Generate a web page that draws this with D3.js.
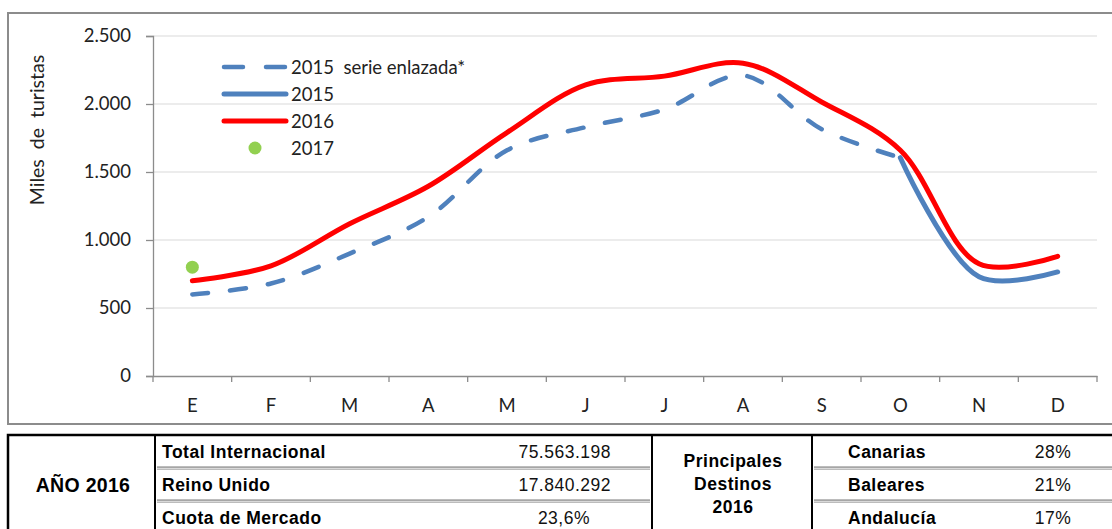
<!DOCTYPE html>
<html>
<head>
<meta charset="utf-8">
<script src="https://cdn.jsdelivr.net/npm/d3@7"></script>
<style>
  body { margin: 0; background: #fff; }
  .main svg { display: block; }
  text { white-space: pre; }
</style>
</head>
<body>
<div class="main"></div>
<script>
// chart data (miles de turistas)
let months = ["E", "F", "M", "A", "M", "J", "J", "A", "S", "O", "N", "D"];
let serieEnlazada2015 = [600, 680, 900, 1170, 1660, 1830, 1960, 2210, 1815, 1605, null, null];
let values2015 = [null, null, null, null, null, null, null, null, null, 1605, 730, 765];
let values2016 = [700, 810, 1120, 1395, 1790, 2140, 2205, 2300, 2015, 1660, 825, 880];
let values2017 = [800];
let yTicks = [0, 500, 1000, 1500, 2000, 2500];
let legendLabels = ["2015  serie enlazada*", "2015", "2016", "2017"];

// table data
let tableLabels = ["Total Internacional", "Reino Unido", "Cuota de Mercado"];
let tableValues = ["75.563.198", "17.840.292", "23,6%"];
let destinos = ["Canarias", "Baleares", "Andalucía"];
let destinosShare = ["28%", "21%", "17%"];

let width = 1112;
let height = 529;

let svg = d3.select(".main")
    .append("svg")
    .attr("width", width)
    .attr("height", height);

let labelFont = "Lato, 'Open Sans', sans-serif";
let tableFont = "'Liberation Sans', Arial, sans-serif";

// chart frame
svg.append("rect")
    .attr("x", 8).attr("y", 13)
    .attr("width", 1120).attr("height", 411)
    .attr("fill", "none")
    .attr("stroke", "#8c8c8c")
    .attr("stroke-width", 2);

let x = d3.scaleBand()
    .domain(d3.range(months.length))
    .range([153, 1097]);

let y = d3.scaleLinear()
    .domain([0, 2500])
    .range([376, 36]);

// gridlines
svg.append("g")
    .selectAll("line")
    .data(yTicks.filter(d => d > 0))
    .enter().append("line")
    .attr("x1", 153).attr("x2", 1097)
    .attr("y1", d => y(d)).attr("y2", d => y(d))
    .attr("stroke", "#d9d9d9")
    .attr("stroke-width", 1);

// y axis
let yAxis = svg.append("g")
    .attr("transform", "translate(153,0)")
    .call(d3.axisLeft(y).tickValues(yTicks).tickSize(7).tickPadding(15)
        .tickFormat(d => d3.format(",")(d).replace(",", ".")));
yAxis.select(".domain").attr("stroke", "#8c8c8c").attr("stroke-width", 1.3);
yAxis.selectAll(".tick line").attr("stroke", "#8c8c8c").attr("stroke-width", 1.3);
yAxis.selectAll("text")
    .attr("font-family", labelFont)
    .attr("font-size", 18.5)
    .attr("fill", "#222");

// x axis
let xAxis = svg.append("g")
    .attr("transform", "translate(0,376)")
    .call(d3.axisBottom(x).tickSize(0).tickPadding(23).tickFormat(i => months[i]));
xAxis.select(".domain").attr("stroke", "#8c8c8c").attr("stroke-width", 1.3);
xAxis.selectAll("text")
    .attr("font-family", labelFont)
    .attr("font-size", 18.5)
    .attr("fill", "#222");

// category boundary ticks
svg.append("g")
    .selectAll("line")
    .data(d3.range(months.length + 1))
    .enter().append("line")
    .attr("x1", i => i < months.length ? x(i) : x.range()[1])
    .attr("x2", i => i < months.length ? x(i) : x.range()[1])
    .attr("y1", 376).attr("y2", 382)
    .attr("stroke", "#8c8c8c")
    .attr("stroke-width", 1.3);

// y title
svg.append("text")
    .attr("transform", "translate(44,130) rotate(-90)")
    .attr("text-anchor", "middle")
    .attr("font-family", labelFont)
    .attr("font-size", 19.5)
    .attr("fill", "#222")
    .text("Miles  de  turistas");

let line = d3.line()
    .defined(d => d != null)
    .x((d, i) => x(i) + x.bandwidth() / 2)
    .y(d => y(d))
    .curve(d3.curveCatmullRom.alpha(0.5));

svg.append("path")
    .datum(serieEnlazada2015)
    .attr("d", line)
    .attr("fill", "none")
    .attr("stroke", "#4f81bd")
    .attr("stroke-width", 4.5)
    .attr("stroke-linecap", "round")
    .attr("stroke-dasharray", "16,22");

svg.append("path")
    .datum(values2015)
    .attr("d", line)
    .attr("fill", "none")
    .attr("stroke", "#4f81bd")
    .attr("stroke-width", 5)
    .attr("stroke-linecap", "round");

svg.append("path")
    .datum(values2016)
    .attr("d", line)
    .attr("fill", "none")
    .attr("stroke", "#ff0000")
    .attr("stroke-width", 5)
    .attr("stroke-linecap", "round");

svg.selectAll(".dot2017")
    .data(values2017)
    .enter().append("circle")
    .attr("class", "dot2017")
    .attr("cx", (d, i) => x(i) + x.bandwidth() / 2)
    .attr("cy", d => y(d))
    .attr("r", 6.5)
    .attr("fill", "#92d050");

// legend
let legend = svg.append("g").attr("transform", "translate(221,67)");
let legendRows = legend.selectAll("g")
    .data(legendLabels)
    .enter().append("g")
    .attr("transform", (d, i) => `translate(0,${i * 27})`);

legendRows.append("text")
    .attr("x", 70)
    .attr("y", 7)
    .attr("font-family", labelFont)
    .attr("font-size", 18.5)
    .attr("fill", "#222")
    .text(d => d);

legendRows.filter((d, i) => i === 0).append("line")
    .attr("x1", 3).attr("x2", 65).attr("y1", 0).attr("y2", 0)
    .attr("stroke", "#4f81bd").attr("stroke-width", 4.5)
    .attr("stroke-linecap", "round").attr("stroke-dasharray", "19,23");
legendRows.filter((d, i) => i === 1).append("line")
    .attr("x1", 3).attr("x2", 65).attr("y1", 0).attr("y2", 0)
    .attr("stroke", "#4f81bd").attr("stroke-width", 5).attr("stroke-linecap", "round");
legendRows.filter((d, i) => i === 2).append("line")
    .attr("x1", 3).attr("x2", 65).attr("y1", 0).attr("y2", 0)
    .attr("stroke", "#ff0000").attr("stroke-width", 5).attr("stroke-linecap", "round");
legendRows.filter((d, i) => i === 3).append("circle")
    .attr("cx", 34).attr("cy", 0).attr("r", 6.5)
    .attr("fill", "#92d050");

// summary table
let table = svg.append("g");
let rowH = 33;
let tableTop = 435;

table.append("rect")
    .attr("x", 8).attr("y", tableTop)
    .attr("width", 1120).attr("height", 120)
    .attr("fill", "none")
    .attr("stroke", "#000")
    .attr("stroke-width", 2.5);

[155, 652, 812].forEach(cx => {
    table.append("line")
        .attr("x1", cx).attr("x2", cx)
        .attr("y1", tableTop).attr("y2", height)
        .attr("stroke", "#000").attr("stroke-width", 2);
});

// row separators
[1, 2].forEach(r => {
    [[157, 650], [814, 1112]].forEach(seg => {
        table.append("line")
            .attr("x1", seg[0]).attr("x2", seg[1])
            .attr("y1", tableTop + r * rowH).attr("y2", tableTop + r * rowH)
            .attr("stroke", "#a6a6a6").attr("stroke-width", 3.5);
        table.append("line")
            .attr("x1", seg[0]).attr("x2", seg[1])
            .attr("y1", tableTop + r * rowH + 0.5).attr("y2", tableTop + r * rowH + 0.5)
            .attr("stroke", "#e6e6e6").attr("stroke-width", 0.8);
    });
});

table.append("text")
    .attr("x", 83).attr("y", 492)
    .attr("text-anchor", "middle")
    .attr("font-family", tableFont)
    .attr("font-weight", "bold")
    .attr("font-size", 19.5)
    .attr("letter-spacing", 0.3)
    .attr("fill", "#000")
    .text("AÑO 2016");

table.selectAll(".tlabel")
    .data(tableLabels)
    .enter().append("text")
    .attr("class", "tlabel")
    .attr("x", 162)
    .attr("y", (d, i) => tableTop + 23 + i * rowH)
    .attr("font-family", tableFont)
    .attr("font-weight", "bold")
    .attr("font-size", 17.5)
    .attr("letter-spacing", 0.5)
    .text(d => d);

table.selectAll(".tvalue")
    .data(tableValues)
    .enter().append("text")
    .attr("class", "tvalue")
    .attr("x", (d, i) => i < 2 ? 611 : 590)
    .attr("y", (d, i) => tableTop + 23 + i * rowH)
    .attr("text-anchor", "end")
    .attr("font-family", tableFont)
    .attr("font-size", 17.5)
    .attr("letter-spacing", 0.5)
    .attr("fill", "#111")
    .text(d => d);

table.selectAll(".ptitle")
    .data(["Principales", "Destinos", "2016"])
    .enter().append("text")
    .attr("class", "ptitle")
    .attr("x", 733)
    .attr("y", (d, i) => 467 + i * 23)
    .attr("text-anchor", "middle")
    .attr("font-family", tableFont)
    .attr("font-weight", "bold")
    .attr("font-size", 17.5)
    .attr("letter-spacing", 0.5)
    .text(d => d);

table.selectAll(".dlabel")
    .data(destinos)
    .enter().append("text")
    .attr("class", "dlabel")
    .attr("x", 848)
    .attr("y", (d, i) => tableTop + 23 + i * rowH)
    .attr("font-family", tableFont)
    .attr("font-weight", "bold")
    .attr("font-size", 17.5)
    .attr("letter-spacing", 0.5)
    .text(d => d);

table.selectAll(".dvalue")
    .data(destinosShare)
    .enter().append("text")
    .attr("class", "dvalue")
    .attr("x", 1053)
    .attr("y", (d, i) => tableTop + 23 + i * rowH)
    .attr("text-anchor", "middle")
    .attr("font-family", tableFont)
    .attr("font-size", 17.5)
    .attr("letter-spacing", 0.5)
    .attr("fill", "#111")
    .text(d => d);
</script>
</body>
</html>
